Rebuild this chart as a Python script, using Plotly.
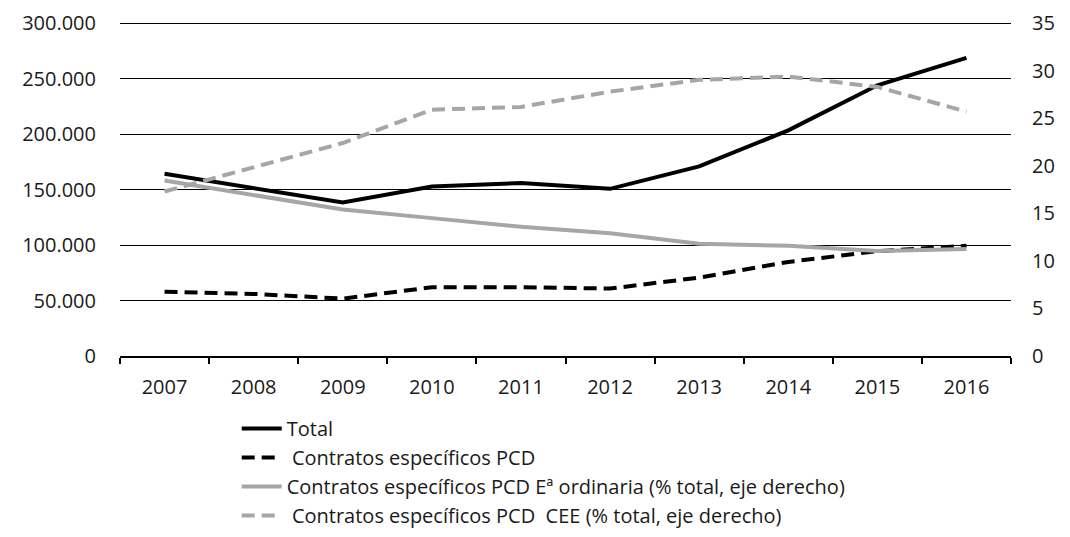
import plotly.graph_objects as go

years = ["2007", "2008", "2009", "2010", "2011", "2012", "2013", "2014", "2015", "2016"]

total = [164300, 151600, 138400, 152800, 155900, 150700, 170900, 203400, 244000, 268700]
pcd = [58000, 56000, 51700, 62000, 62000, 60800, 70700, 84800, 94500, 99300]
pcd_ordinaria = [18.45, 16.9, 15.4, 14.5, 13.6, 12.9, 11.8, 11.6, 11.05, 11.26]
pcd_cee = [17.3, 19.9, 22.4, 25.9, 26.2, 27.8, 29.05, 29.4, 28.3, 25.7]

FONT = "Open Sans"
GRAY = "#a6a6a6"

fig = go.Figure()
fig.add_trace(go.Scatter(x=years, y=total, name="Total", mode="lines",
                         line=dict(color="black", width=4)))
fig.add_trace(go.Scatter(x=years, y=pcd, name=" Contratos específicos PCD", mode="lines",
                         line=dict(color="black", width=4, dash="13px,7px")))
fig.add_trace(go.Scatter(x=years, y=pcd_ordinaria, name="Contratos específicos PCD Eª ordinaria (% total, eje derecho)",
                         mode="lines", yaxis="y2", line=dict(color=GRAY, width=4)))
fig.add_trace(go.Scatter(x=years, y=pcd_cee, name=" Contratos específicos PCD  CEE (% total, eje derecho)",
                         mode="lines", yaxis="y2", line=dict(color=GRAY, width=4, dash="13px,7px")))

# page is drawn with the browser's 8px body margin, so margins are shifted
fig.update_layout(
    width=1070, height=537,
    margin=dict(l=112, r=67, t=13, b=189, autoexpand=False),
    paper_bgcolor="white", plot_bgcolor="white",
    separators=",.",
    font=dict(family=FONT, size=20, color="#1a1a1a"),
    showlegend=True,
    legend=dict(x=0.131, y=-0.158, xanchor="left", yanchor="top",
                font=dict(size=20), tracegroupgap=0, itemwidth=40,
                bgcolor="rgba(0,0,0,0)"),
    xaxis=dict(type="category", range=[-0.5, 9.5], showgrid=False, showline=True,
               linecolor="black", linewidth=1.5, ticks="outside", tickson="boundaries",
               ticklen=6, tickcolor="black", tickwidth=1.5, zeroline=False,
               ticklabelstandoff=12, automargin=False),
    yaxis=dict(range=[0, 302000], tickvals=[0, 50000, 100000, 150000, 200000, 250000, 300000],
               tickformat=",d", showgrid=True, gridcolor="black", gridwidth=1.2,
               zeroline=False, showline=False, ticks="", ticklabelstandoff=23,
               automargin=False),
    yaxis2=dict(range=[0, 35.233], tickvals=[0, 5, 10, 15, 20, 25, 30, 35], overlaying="y",
                side="right", showgrid=False, zeroline=False, showline=False, ticks="",
                ticklabelstandoff=20, automargin=False),
)

fig.write_html("out.html")
